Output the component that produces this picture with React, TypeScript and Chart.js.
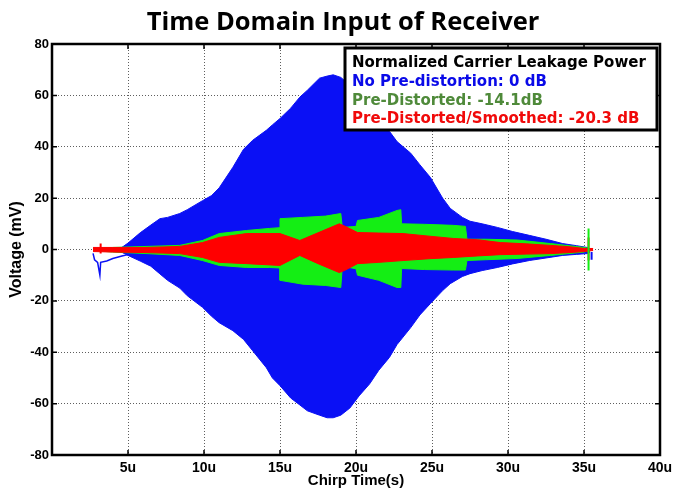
import React, { useEffect, useRef } from 'react';
import { Chart, registerables } from 'chart.js';

Chart.register(...registerables);

// ---------- data ----------
const chartTitle = 'Time Domain Input of Receiver';
const xAxisTitle = 'Chirp Time(s)';
const yAxisTitle = 'Voltage (mV)';
const xTickValues = [0, 5, 10, 15, 20, 25, 30, 35, 40];
const yTickValues = [-80, -60, -40, -20, 0, 20, 40, 60, 80];

const legendHeading = 'Normalized Carrier Leakage Power';
const legendLabels = ['No Pre-distortion: 0 dB', 'Pre-Distorted: -14.1dB', 'Pre-Distorted/Smoothed: -20.3 dB'];
const legendColors = ['#0a0ae8', '#4f8a3a', '#f00a0a'];

// No pre-distortion (blue) envelope, time in microseconds, voltage in mV
const blueT = [4.4, 5.0, 5.8, 6.5, 7.1, 7.6, 8.4, 8.9, 9.9, 10.5, 11.0, 11.9, 12.6, 13.2, 14.1, 14.5, 15.0, 15.7, 16.3, 16.8, 17.6, 18.1, 18.5, 19.0, 19.6, 20.2, 20.9, 21.5, 22.2, 22.7, 23.6, 24.2, 24.9, 25.7, 26.2, 27.0, 27.5, 28.3, 29.3, 30.3, 31.4, 32.5, 33.6, 34.5, 35.2, 35.4];
const blueUpper = [0, 2.5, 6.5, 9.5, 12, 12.5, 14, 15.5, 19, 21, 24, 32, 39, 42.5, 46.4, 48.5, 51, 55, 59.3, 62, 66.7, 67.5, 68, 67, 64, 60, 55, 51, 46, 42, 37.5, 33, 28, 20, 16, 12.5, 11, 10, 8.6, 7, 5.5, 4, 2.3, 1.5, 0.8, 0];
const blueLower = [-0.5, -2.3, -4.5, -6.5, -9.5, -12, -15, -18, -22.5, -26, -28.5, -31.6, -35, -39.4, -46, -50, -53, -57.8, -60.5, -62.8, -64.5, -65.5, -65.5, -64.5, -61.7, -57, -52.3, -47, -42, -37, -30.4, -25.5, -21, -16, -13.3, -10.5, -9.4, -8.2, -7, -5.6, -4.3, -3.3, -2.3, -1.9, -1.6, -1];
const blueStartT = [2.7, 2.8, 3.0, 3.15, 3.2, 3.6, 4.0, 4.6, 5.0];
const blueStartV = [-1.5, -4, -5, -10, -5, -4.5, -3.5, -2.5, -2];

// Pre-distorted (green) envelope
const greenT = [2.7, 4.0, 6.25, 8.4, 9.9, 11.0, 12.8, 14.3, 15.0, 15.0, 16.5, 18.0, 19.0, 19.1, 20.0, 20.1, 21.5, 22.7, 22.95, 23.0, 24.5, 26.4, 27.2, 27.3, 28.5, 30.6, 32.8, 35.0, 35.4];
const greenUpper = [0.4, 0.8, 1.2, 1.6, 3.5, 6.2, 7.4, 8.2, 8.5, 12, 12.5, 13, 14, 8.6, 9, 11.3, 12.5, 15.2, 15.5, 10, 9.8, 9.4, 9, 4, 4, 3.7, 2.3, 0.8, 0.3];
const greenLower = [-0.4, -1, -1.6, -2.3, -4.3, -6.2, -7, -7, -7.2, -12, -13.5, -14, -14.8, -6.5, -7.5, -10, -12, -14.8, -14.8, -7.4, -7.8, -8, -8, -4.3, -4, -3.5, -2.3, -1, -0.3];

// Pre-distorted / smoothed (red) envelope
const redT = [2.7, 4.0, 6.25, 8.4, 9.9, 11.0, 12.8, 15.0, 16.3, 17.5, 18.9, 19.3, 20.1, 21.5, 23.1, 24.8, 26.4, 28.0, 29.5, 31.2, 32.8, 34.0, 35.0, 35.6];
const redUpper = [0.8, 0.8, 0.8, 1.2, 2.7, 4.7, 6.2, 6.2, 3.5, 6.5, 10, 9, 6.6, 6.4, 6.2, 5.2, 4.3, 3.8, 2.7, 2.2, 1.6, 1.1, 0.4, 0.4];
const redLower = [-0.8, -1, -1.2, -1.6, -3.1, -5, -5.5, -6.2, -2.3, -5.5, -9, -8, -5.5, -5, -4.3, -3.6, -3.1, -2.5, -2, -1.8, -1.6, -1.2, -0.8, -0.4];

// short vertical bursts at chirp start / end
const startSpikeT = 3.2;
const redStartSpike = [2.3, -1.6];
const endSpikeT = 35.3;
const greenEndSpike = [8.2, -8.2];
const redEndSpike = [4.7, -4.3];
const blueEndSpikeT = 35.5;
const blueEndSpike = [-1, -4];

const BLUE = '#0a10f5';
const GREEN = '#14ee14';
const RED = '#ff0000';
const SANS = "'Liberation Sans', Arial, sans-serif";
const WIDE = "'DejaVu Sans', Verdana, sans-serif";

const pts = (t: number[], v: number[]) => t.map((x, i) => ({ x, y: v[i] }));
const vline = (x: number, v: number[]) => v.map((y) => ({ x, y }));

const band = (t: number[], up: number[], lo: number[], color: string, order: number) => [
  { data: pts(t, up), borderColor: color, backgroundColor: color, borderWidth: 1, pointRadius: 0, fill: '+1', order },
  { data: pts(t, lo), borderColor: color, backgroundColor: color, borderWidth: 1, pointRadius: 0, fill: false, order },
];
const spike = (data: { x: number; y: number }[], color: string, width: number) => ({
  data, borderColor: color, backgroundColor: color, borderWidth: width, pointRadius: 0, fill: false, order: 0,
});

const framePlugin = {
  id: 'frame',
  afterDatasetsDraw(chart: any) {
    const { ctx, chartArea: a, scales } = chart;
    ctx.save();
    ctx.strokeStyle = '#000';
    ctx.lineWidth = 1.5;
    const tl = 5;
    ctx.beginPath();
    xTickValues.forEach((v) => {
      const x = scales.x.getPixelForValue(v);
      ctx.moveTo(x, a.bottom); ctx.lineTo(x, a.bottom - tl);
      ctx.moveTo(x, a.top); ctx.lineTo(x, a.top + tl);
    });
    yTickValues.forEach((v) => {
      const y = scales.y.getPixelForValue(v);
      ctx.moveTo(a.left, y); ctx.lineTo(a.left + tl, y);
      ctx.moveTo(a.right, y); ctx.lineTo(a.right - tl, y);
    });
    ctx.stroke();
    ctx.lineWidth = 2.5;
    ctx.strokeRect(a.left, a.top, a.right - a.left, a.bottom - a.top);
    ctx.restore();
  },
};

const textPlugin = {
  id: 'texts',
  afterDraw(chart: any) {
    const { ctx, chartArea: a } = chart;
    ctx.save();
    // title
    ctx.fillStyle = '#000';
    ctx.font = `bold 25.5px 'Open Sans', Lato, sans-serif`;
    ctx.textAlign = 'center';
    ctx.textBaseline = 'alphabetic';
    ctx.fillText(chartTitle, a.left + (a.right - a.left) / 2 - 13, 30);
    // legend box
    const bw = 312, bh = 82;
    const bx = a.right - 3 - bw, by = a.top + 4;
    ctx.fillStyle = '#fff';
    ctx.fillRect(bx, by, bw, bh);
    ctx.lineWidth = 3;
    ctx.strokeStyle = '#000';
    ctx.strokeRect(bx, by, bw, bh);
    ctx.textAlign = 'left';
    ctx.font = `bold 15px ${WIDE}`;
    ctx.fillStyle = '#000';
    ctx.fillText(legendHeading, bx + 7, by + 19);
    legendLabels.forEach((s, i) => {
      ctx.fillStyle = legendColors[i];
      ctx.fillText(s, bx + 7, by + 38 + i * 18.5);
    });
    ctx.restore();
  },
};

export default function App() {
  const ref = useRef<HTMLCanvasElement | null>(null);
  useEffect(() => {
    document.body.style.margin = '0';
    const canvas = ref.current!;
    const chart = new Chart(canvas, {
      type: 'line',
      data: {
        datasets: [
          spike(vline(startSpikeT, redStartSpike), RED, 2),
          spike(vline(endSpikeT, greenEndSpike), GREEN, 2),
          spike(vline(endSpikeT, redEndSpike), RED, 2),
          spike(vline(blueEndSpikeT, blueEndSpike), BLUE, 2),
          ...band(redT, redUpper, redLower, RED, 1),
          ...band(greenT, greenUpper, greenLower, GREEN, 2),
          spike(pts(blueStartT, blueStartV), BLUE, 1.5),
          ...band(blueT, blueUpper, blueLower, BLUE, 3),
        ] as any,
      },
      options: {
        animation: false,
        responsive: false,
        maintainAspectRatio: false,
        layout: { padding: { top: 44, right: 13, left: 0, bottom: 0 } },
        plugins: { legend: { display: false }, tooltip: { enabled: false }, title: { display: false } },
        scales: {
          x: {
            type: 'linear',
            min: 0,
            max: 40,
            afterFit: (s: any) => { s.height = 33; s.paddingRight = 0; s.paddingLeft = 0; },
            afterBuildTicks: (s: any) => { s.ticks = xTickValues.map((value) => ({ value })); },
            ticks: {
              callback: (v: any) => (v === 0 ? '' : `${v}u`),
              color: '#000',
              font: { family: SANS, size: 14, weight: 'bold' },
              padding: 5,
              maxRotation: 0,
              autoSkip: false,
            },
            grid: { color: 'rgba(40,40,40,0.75)', lineWidth: 1, drawTicks: false },
            border: { display: false, dash: [1, 2] },
            title: {
              display: true,
              text: xAxisTitle,
              color: '#000',
              font: { family: SANS, size: 15, weight: 'bold', lineHeight: 1 },
              padding: { top: 0, bottom: 0 },
            },
          },
          y: {
            min: -80,
            max: 80,
            afterFit: (s: any) => { s.width = 52; s.paddingTop = 0; s.paddingBottom = 0; },
            afterBuildTicks: (s: any) => { s.ticks = yTickValues.map((value) => ({ value })); },
            ticks: {
              color: '#000',
              font: { family: SANS, size: 13, weight: 'bold' },
              padding: 3,
            },
            grid: { color: 'rgba(40,40,40,0.75)', lineWidth: 1, drawTicks: false },
            border: { display: false, dash: [1, 2] },
            title: {
              display: true,
              text: yAxisTitle,
              color: '#000',
              font: { family: SANS, size: 16, weight: 'bold', lineHeight: 1.2 },
              padding: { top: 7, bottom: 0 },
            },
          },
        },
      },
      plugins: [framePlugin, textPlugin],
    } as any);
    return () => chart.destroy();
  }, []);
  return (
    <div style={{ width: 673, height: 488 }}>
      <canvas ref={ref} width={673} height={488} style={{ display: 'block' }} />
    </div>
  );
}
